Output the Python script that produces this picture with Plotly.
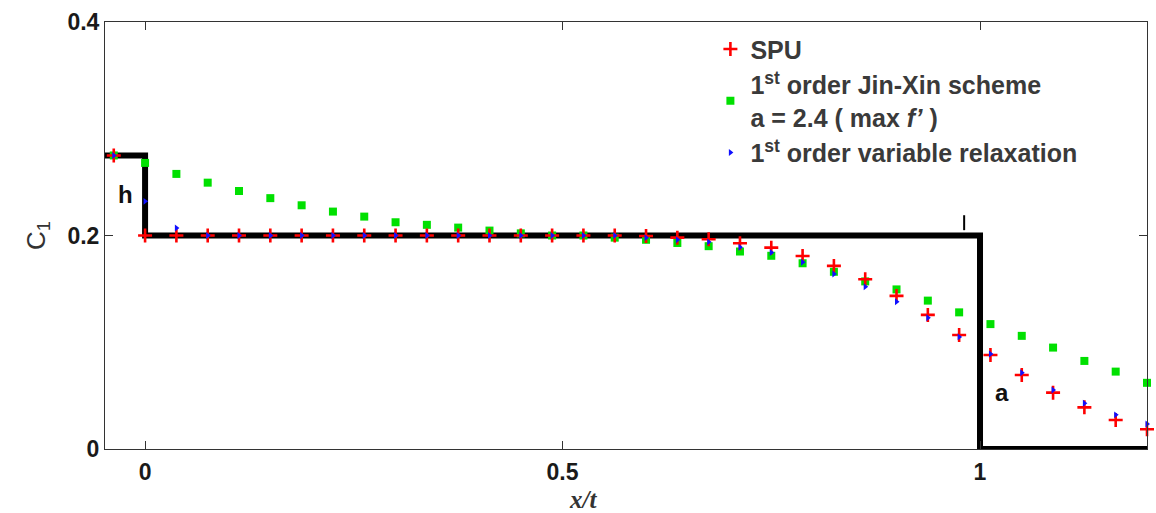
import plotly.graph_objects as go

# Sample positions x/t (uniform grid, one point left of the origin)
x_t = [-0.0375, 0.0, 0.0375, 0.075, 0.1125, 0.15, 0.1875, 0.225, 0.2625, 0.3,
       0.3375, 0.375, 0.4125, 0.45, 0.4875, 0.525, 0.5625, 0.6, 0.6375, 0.675,
       0.7125, 0.75, 0.7875, 0.825, 0.8625, 0.9, 0.9375, 0.975, 1.0125, 1.05,
       1.0875, 1.125, 1.1625, 1.2]

# SPU solution
spu = [0.275, 0.2, 0.2, 0.2, 0.2, 0.2, 0.2, 0.2, 0.2, 0.2,
       0.2, 0.2, 0.2, 0.2, 0.2, 0.2, 0.2, 0.1995, 0.198, 0.1965,
       0.1927, 0.1886, 0.1808, 0.1715, 0.159, 0.1434, 0.1256, 0.1068, 0.088, 0.0693,
       0.0528, 0.039, 0.0272, 0.0185]

# 1st order Jin-Xin scheme, a = 2.4
jin_xin = [0.275, 0.268, 0.2577, 0.2495, 0.2417, 0.235, 0.2283, 0.2224, 0.2177, 0.2124,
           0.21, 0.2074, 0.2046, 0.202, 0.2, 0.2, 0.198, 0.196, 0.193, 0.19,
           0.185, 0.181, 0.174, 0.166, 0.157, 0.1495, 0.139, 0.128, 0.117, 0.106,
           0.095, 0.0825, 0.0725, 0.062]

# 1st order variable relaxation
var_relax = [0.275, 0.232, 0.207, 0.2, 0.2, 0.2, 0.2, 0.2, 0.2, 0.2,
             0.2, 0.2, 0.2, 0.2, 0.2, 0.2, 0.2, 0.198, 0.196, 0.194,
             0.189, 0.184, 0.175, 0.164, 0.152, 0.138, 0.123, 0.105, 0.089, 0.0715,
             0.0553, 0.0428, 0.032, 0.0234]

# Exact solution (piecewise constant)
exact_x = [-0.048, 0.0, 0.0, 1.0, 1.0, 1.2]
exact_y = [0.275, 0.275, 0.2, 0.2, 0.0, 0.0]

FONT = "Liberation Sans, Arial, sans-serif"

fig = go.Figure()

fig.add_trace(go.Scatter(
    x=exact_x, y=exact_y, mode="lines",
    line=dict(color="black", width=6), showlegend=False, hoverinfo="skip",
))

fig.add_trace(go.Scatter(
    x=x_t, y=jin_xin, mode="markers", legendrank=2,
    name="1<sup>st</sup> order Jin-Xin scheme<br>a = 2.4 ( max <i>f’</i> )",
    marker=dict(symbol="square", size=8, color="#00e000"),
    cliponaxis=False,
))

fig.add_trace(go.Scatter(
    x=x_t, y=spu, mode="markers", legendrank=1, name="SPU",
    marker=dict(symbol="cross-thin", size=10, color="red",
                line=dict(color="red", width=2.6)),
    cliponaxis=False,
))

fig.add_trace(go.Scatter(
    x=x_t, y=var_relax, mode="markers", legendrank=3,
    name="1<sup>st</sup> order variable relaxation",
    marker=dict(symbol="triangle-right", size=6, color="#1010ff"),
    cliponaxis=False,
))

axis_common = dict(
    showline=True, linecolor="#333", linewidth=1, mirror="ticks",
    ticks="inside", ticklen=8, tickcolor="#333", showgrid=False, zeroline=False,
    tickfont=dict(family=FONT, size=23, color="#1a1a1a", weight="bold"),
)

fig.update_xaxes(range=[-0.048, 1.2], tick0=0, dtick=0.5, ticklabelstandoff=2,
                 **axis_common)
fig.update_yaxes(range=[0, 0.4], tick0=0, dtick=0.2, **axis_common,
                 title=dict(text="C<sub>1</sub>", standoff=14,
                            font=dict(family=FONT, size=26, color="#333")))

fig.add_annotation(text="<b><i>x/t</i></b>", xref="paper", yref="paper",
                   x=0.459, y=-0.118, showarrow=False, yanchor="middle",
                   font=dict(family="Liberation Serif, Times New Roman, serif",
                             size=25, color="#333"))
fig.add_annotation(text="<b>h</b>", x=-0.024, y=0.238, showarrow=False,
                   font=dict(family=FONT, size=24, color="#111"))
fig.add_annotation(text="<b>a</b>", x=1.026, y=0.0525, showarrow=False,
                   font=dict(family=FONT, size=24, color="#111"))
fig.add_shape(type="line", x0=0.981, x1=0.981, y0=0.205, y1=0.219,
              line=dict(color="black", width=2))

fig.update_layout(
    width=1156, height=513,
    margin=dict(l=105, r=9, t=22, b=64),
    paper_bgcolor="white", plot_bgcolor="white",
    legend=dict(x=0.581, y=0.99, xanchor="left", yanchor="top",
                bgcolor="rgba(0,0,0,0)", tracegroupgap=0,
                font=dict(family=FONT, size=25, color="#3a3a3a", weight="bold")),
)

fig.write_html("out.html")
